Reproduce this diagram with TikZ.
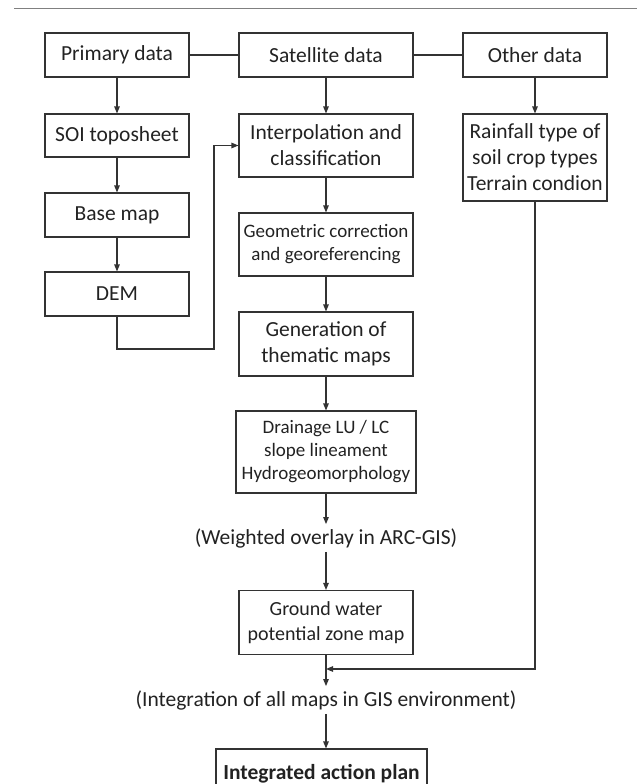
\documentclass[tikz,border=0pt]{standalone}
\usepackage{fontspec}
\setmainfont{Carlito}
\usepackage{xcolor}
\usepackage{tikz}
\usetikzlibrary{positioning, arrows.meta, calc}
\definecolor{boxline}{HTML}{333333}
\definecolor{ruleline}{HTML}{808080}
\definecolor{labeltext}{HTML}{222222}
\newcommand{\flowfont}{\fontsize{21.5}{26}\selectfont}
\newcommand{\midflowfont}{\fontsize{20}{25}\selectfont}
\newcommand{\smallflowfont}{\fontsize{19}{23}\selectfont}
\tikzset{
  flowbox/.style={draw=boxline, line width=1.1pt, text=labeltext, align=center,
    inner sep=0pt, minimum width=144pt, minimum height=44pt, font=\flowfont},
  widebox/.style={flowbox, minimum width=174pt},
  notetext/.style={text=labeltext, inner xsep=0pt, inner ysep=4pt, font=\flowfont},
  link/.style={draw=boxline, line width=1.1pt},
  arr/.style={link, -{Triangle[width=5.5pt,length=7pt]}},
}

\begin{document}
\begin{tikzpicture}[x=1pt, y=-1pt]
    \useasboundingbox (0,0) rectangle (637,784);
    \draw[ruleline, line width=1pt] (14,9) -- (637,9);

    % top row
    \node[flowbox] (primary) at (117,55) {Primary data};
    \node[widebox] (satellite) at (326,55) {Satellite data};
    \node[flowbox] (other) at (535,55) {Other data};

    % left column
    \node[flowbox, minimum height=43pt] (toposheet) at (117,135.5) {SOI toposheet};
    \node[flowbox] (basemap) at (117,215) {Base map};
    \node[flowbox] (dem) at (117,294) {DEM};

    % centre column
    \node[widebox, minimum height=63pt] (interp) at (326,145.5) {Interpolation and\\classification};
    \node[widebox, minimum height=63pt, font=\smallflowfont] (georef) at (326,244.5) {Geometric correction\\and georeferencing};
    \node[widebox, minimum height=64pt] (thematic) at (326,344) {Generation of\\thematic maps};
    \node[widebox, minimum width=180pt, minimum height=82pt, font=\smallflowfont] (layers) at (326,452)
      {Drainage LU / LC\\slope lineament\\Hydrogeomorphology};
    \node[notetext] (overlay) at (326,538) {(Weighted overlay in ARC-GIS)};
    \node[widebox, minimum height=64pt, font=\midflowfont] (gwzone) at (326,622.5) {Ground water\\potential zone map};
    \node[notetext] (integrate) at (326,700) {(Integration of all maps in GIS environment)};
    \node[flowbox, minimum width=211pt, minimum height=50pt, font=\flowfont\bfseries] (plan) at (321.5,774)
      {Integrated action plan};

    % right column
    \node[flowbox, minimum height=87pt] (rainfall) at (535,157.5) {Rainfall type of\\soil crop types\\Terrain condion};

    \coordinate (demturn) at (214,349);
    \coordinate (merge) at (326,669);

    \draw[link] (primary) -- (satellite);
    \draw[link] (satellite) -- (other);
    \draw[arr] (primary) -- (toposheet);
    \draw[arr] (toposheet) -- (basemap);
    \draw[arr] (basemap) -- (dem);
    \draw[arr] (dem.south) |- (demturn) |- (interp.west);
    \draw[arr] (satellite) -- (interp);
    \draw[arr] (interp) -- (georef);
    \draw[arr] (georef) -- (thematic);
    \draw[arr] (thematic) -- (layers);
    \draw[arr] (layers) -- (overlay);
    \draw[arr] (overlay) -- (gwzone);
    \draw[arr] (other) -- (rainfall);
    \draw[arr] (rainfall.south) |- (merge);
    \draw[arr] (gwzone) -- (integrate);
    \draw[arr] (integrate.south) -- (integrate.south |- plan.north);
\end{tikzpicture}
\end{document}
